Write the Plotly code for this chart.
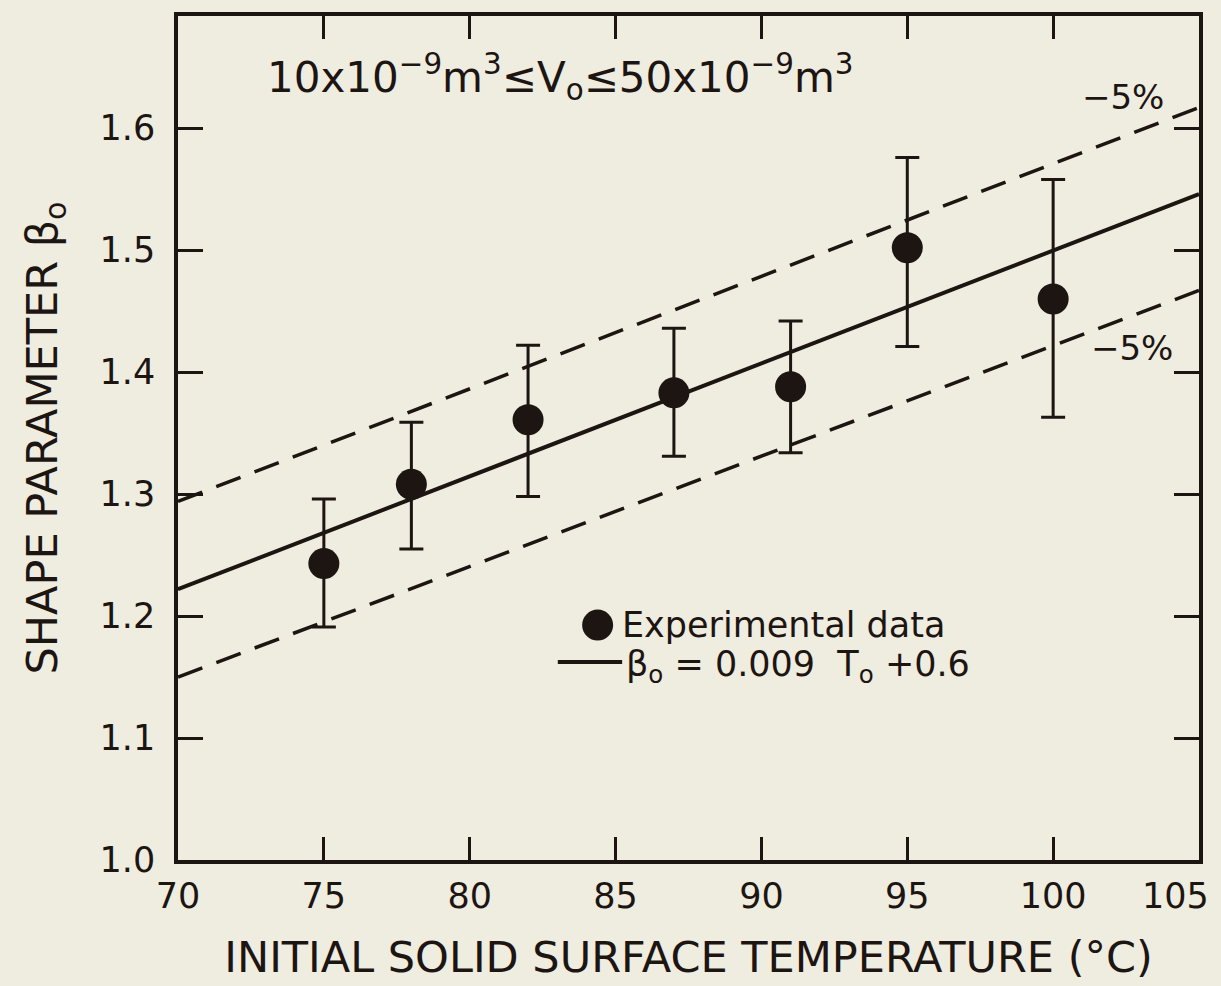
import plotly.graph_objects as go

# ---- data ----
temp = [75, 78, 82, 87, 91, 95, 100]
beta = [1.243, 1.308, 1.361, 1.383, 1.388, 1.502, 1.460]
err_plus = [0.053, 0.051, 0.061, 0.053, 0.054, 0.074, 0.098]
err_minus = [0.052, 0.053, 0.063, 0.052, 0.054, 0.081, 0.097]

fit_x = [70, 105]
fit_y = [1.222, 1.546]
upper_y = [1.294, 1.617]
lower_y = [1.150, 1.467]

x_ticks = [70, 75, 80, 85, 90, 95, 100, 105]
x_ticklabels = ["70", "75", "80", "85", "90", "95", "100", ""]  # "105" drawn as an annotation (edge label)
y_ticks = [1.0, 1.1, 1.2, 1.3, 1.4, 1.5, 1.6]
y_ticklabels = ["1.0", "1.1", "1.2", "1.3", "1.4", "1.5", "1.6"]

INK = "#1c1512"
BG = "#efece0"
FONT = "DejaVu Sans"

fig = go.Figure()

fig.add_trace(go.Scatter(x=fit_x, y=upper_y, mode="lines", showlegend=False,
                         line=dict(color=INK, width=3.5, dash="26px,15px")))
fig.add_trace(go.Scatter(x=fit_x, y=lower_y, mode="lines", showlegend=False,
                         line=dict(color=INK, width=3.5, dash="26px,15px")))

fig.add_trace(go.Scatter(
    x=temp, y=beta, mode="markers", name="Experimental data", showlegend=False,
    marker=dict(size=31, color=INK),
    error_y=dict(type="data", symmetric=False, array=err_plus, arrayminus=err_minus,
                 color=INK, thickness=3, width=12),
))
fig.add_trace(go.Scatter(x=fit_x, y=fit_y, mode="lines", showlegend=False,
                         name="β<sub>o</sub> = 0.009 T<sub>o</sub> +0.6",
                         line=dict(color=INK, width=4)))

# ---- annotations ----
fig.add_annotation(x=83.1, y=1.642, xref="x", yref="y", showarrow=False,
                   text="10x10<sup>−9</sup>m<sup>3</sup>≤V<sub>o</sub>≤50x10<sup>−9</sup>m<sup>3</sup>",
                   font=dict(family=FONT, size=42, color=INK))
fig.add_annotation(x=102.4, y=1.626, xref="x", yref="y", showarrow=False,
                   text="−5%", font=dict(family=FONT, size=34, color=INK))
fig.add_annotation(x=102.7, y=1.420, xref="x", yref="y", showarrow=False,
                   text="−5%", font=dict(family=FONT, size=34, color=INK))

# edge tick label "105" (shifted left so it stays inside the page, like the reference)
fig.add_annotation(x=105, y=0, xref="x", yref="paper", yanchor="top", xanchor="right",
                   xshift=12, yshift=-14, showarrow=False, text="105",
                   font=dict(family=FONT, size=35, color=INK))

# ---- hand-drawn legend (as in the reference) ----
LX, LY1, LY2 = 0.411, 0.2783, 0.2311
fig.add_shape(type="circle", xref="paper", yref="paper", xsizemode="pixel", ysizemode="pixel",
              xanchor=LX, yanchor=LY1, x0=-15.5, x1=15.5, y0=-15.5, y1=15.5,
              fillcolor=INK, line=dict(color=INK, width=0))
fig.add_annotation(x=LX, y=LY1, xref="paper", yref="paper", xanchor="left", yanchor="middle",
                   xshift=22, showarrow=False, text="Experimental data",
                   font=dict(family=FONT, size=35, color=INK))
fig.add_shape(type="line", xref="paper", yref="paper", x0=0.372, x1=0.435, y0=0.2347, y1=0.2347,
              line=dict(color=INK, width=4))
fig.add_annotation(x=0.437, y=LY2, xref="paper", yref="paper", xanchor="left", yanchor="middle",
                   yshift=-2, showarrow=False, text="β<sub>o</sub> = 0.009  T<sub>o</sub> +0.6",
                   font=dict(family=FONT, size=35, color=INK))

axis_common = dict(showline=True, linewidth=3.5, linecolor=INK, mirror="ticks",
                   ticks="inside", tickwidth=3, tickcolor=INK, showgrid=False,
                   zeroline=False, tickfont=dict(family=FONT, size=35, color=INK))

fig.update_xaxes(range=[70, 105], tickvals=x_ticks, ticktext=x_ticklabels, ticklen=23,
                 title=dict(text="INITIAL SOLID SURFACE TEMPERATURE (°C)",
                            font=dict(family=FONT, size=43, color=INK), standoff=28),
                 ticklabelstandoff=2, **axis_common)
fig.update_yaxes(range=[1.0, 1.692], tickvals=y_ticks, ticktext=y_ticklabels, ticklen=25,
                 title=dict(text="SHAPE PARAMETER β<sub>o</sub>",
                            font=dict(family=FONT, size=43, color=INK), standoff=30),
                 ticklabelstandoff=12, **axis_common)

fig.update_layout(
    width=1221, height=986,
    margin=dict(l=178, r=22, t=14, b=124),
    paper_bgcolor=BG, plot_bgcolor=BG,
    font=dict(family=FONT, color=INK),
    showlegend=False,
)

fig.write_html("out.html")
